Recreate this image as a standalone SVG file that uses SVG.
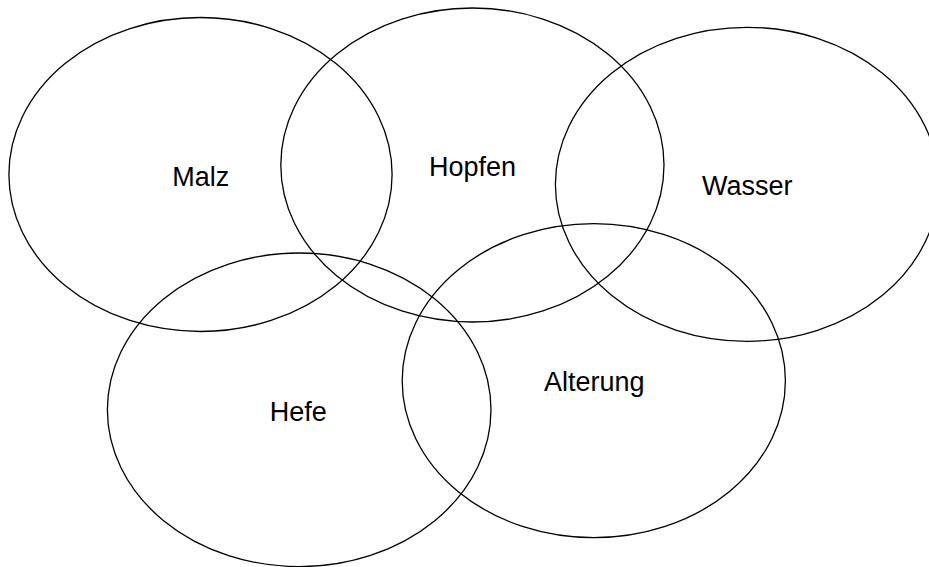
<svg xmlns="http://www.w3.org/2000/svg" width="929" height="567" viewBox="0 0 929 567">
<style>
.c{fill:none;stroke:#000;stroke-width:1.3}
.t{font-family:"Liberation Sans",Arial,sans-serif;font-size:27px;fill:#000;text-anchor:middle}
</style>
<rect width="929" height="567" fill="#fff"/>
<g id="malz"><ellipse class="c" cx="200.5" cy="174.5" rx="191.6" ry="157"/><text class="t" x="200.8" y="186">Malz</text></g>
<g id="hopfen"><ellipse class="c" cx="472.4" cy="165" rx="191.6" ry="157"/><text class="t" x="472.5" y="176">Hopfen</text></g>
<g id="wasser"><ellipse class="c" cx="747" cy="184.3" rx="191.6" ry="157"/><text class="t" x="747.3" y="194.6">Wasser</text></g>
<g id="hefe"><ellipse class="c" cx="299.2" cy="409.8" rx="191.8" ry="156.8"/><text class="t" x="298.3" y="420.6">Hefe</text></g>
<g id="alterung"><ellipse class="c" cx="593.8" cy="380.7" rx="191.6" ry="157"/><text class="t" x="594.2" y="391">Alterung</text></g>
<g id="connectors"/>
</svg>
